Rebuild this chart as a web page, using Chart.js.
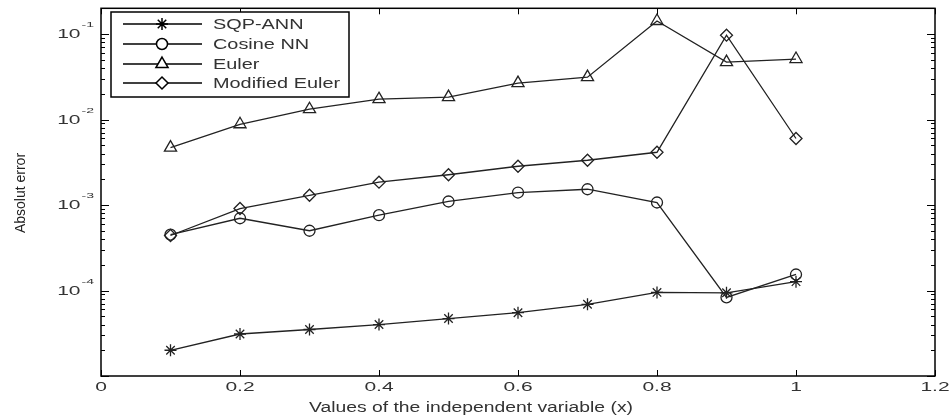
<!DOCTYPE html>
<html>
<head>
<meta charset="utf-8">
<script src="https://cdn.jsdelivr.net/npm/chart.js@4/dist/chart.umd.min.js"></script>
<style>
  html, body { margin: 0; padding: 0; background: #fff; }
  #wrap { width: 950px; height: 419px; }
</style>
</head>
<body>
<div id="wrap"><canvas id="errchart" width="950" height="419"></canvas></div>
<script>
// x positions and absolute error values
let xValues = [0.1, 0.2, 0.3, 0.4, 0.5, 0.6, 0.7, 0.8, 0.9, 1.0];
let sqpAnn = [2.0e-5, 3.1e-5, 3.5e-5, 4.0e-5, 4.7e-5, 5.5e-5, 6.9e-5, 9.5e-5, 9.4e-5, 1.27e-4];
let cosineNN = [4.5e-4, 7.0e-4, 5.0e-4, 7.6e-4, 1.1e-3, 1.4e-3, 1.53e-3, 1.07e-3, 8.3e-5, 1.54e-4];
let euler = [4.7e-3, 8.8e-3, 1.32e-2, 1.73e-2, 1.83e-2, 2.67e-2, 3.13e-2, 0.142, 0.047, 0.051];
let modEuler = [4.4e-4, 9.1e-4, 1.3e-3, 1.85e-3, 2.26e-3, 2.84e-3, 3.34e-3, 4.14e-3, 0.097, 6.0e-3];

let seriesNames = ['SQP-ANN', 'Cosine NN', 'Euler', 'Modified Euler'];
let yMajorTicks = [1e-4, 1e-3, 1e-2, 1e-1];
let yTickExp = ['-4', '-3', '-2', '-1'];
let xTicks = [0, 0.2, 0.4, 0.6, 0.8, 1.0, 1.2];
let xTickLabels = ['0', '0.2', '0.4', '0.6', '0.8', '1', '1.2'];

const LINE = '#222222';
const TEXT = '#333333';
const FONT = '"Liberation Sans", Arial, sans-serif';
const STRETCH = 1.75; //the original picture is stretched sideways

function toPoints(vals){
    return vals.map((v, i) => ({x: xValues[i], y: v}));
}

function makeSet(label, vals, style, radius){
    return {
        label: label,
        data: toPoints(vals),
        borderColor: LINE,
        borderWidth: 1.3,
        backgroundColor: 'rgba(0,0,0,0)',
        pointStyle: style,
        pointRadius: radius,
        pointBorderColor: LINE,
        pointBorderWidth: 1.3,
        pointBackgroundColor: 'rgba(0,0,0,0)',
        tension: 0
    };
}

function drawMarker(ctx, style, radius, x, y){
    if(Chart.helpers && Chart.helpers.drawPoint){
        Chart.helpers.drawPoint(ctx, {pointStyle: style, radius: radius, rotation: 0, borderWidth: 1.3}, x, y);
    }
}

//text with horizontal scaling, align left/center/right
function wideText(ctx, text, x, y, size, sx, align){
    ctx.save();
    ctx.translate(x, y);
    ctx.scale(sx, 1);
    ctx.font = size + 'px ' + FONT;
    ctx.textAlign = align;
    ctx.textBaseline = 'middle';
    ctx.fillStyle = TEXT;
    ctx.fillText(text, 0, 0);
    let w = ctx.measureText(text).width * sx;
    ctx.restore();
    return w;
}

//frame, inner ticks, tick labels, titles and legend
const framePlugin = {
    id: 'frame',
    afterDraw(chart){
        let ctx = chart.ctx;
        let area = chart.chartArea;
        let xs = chart.scales.x;
        let ys = chart.scales.y;
        ctx.save();
        ctx.strokeStyle = '#000';
        ctx.lineWidth = 1.5;
        ctx.strokeRect(area.left, area.top, area.right - area.left, area.bottom - area.top);

        ctx.lineWidth = 1;
        ctx.beginPath();
        xTicks.forEach(t => {
            let px = Math.round(xs.getPixelForValue(t)) + 0.5;
            ctx.moveTo(px, area.bottom); ctx.lineTo(px, area.bottom - 6);
            ctx.moveTo(px, area.top); ctx.lineTo(px, area.top + 6);
        });
        for(let k = -5; k <= 0; k++){
            for(let m = 1; m <= 9; m++){
                let v = m * Math.pow(10, k);
                if(v < ys.min || v > ys.max) continue;
                let py = Math.round(ys.getPixelForValue(v)) + 0.5;
                let len = m === 1 ? 8 : 4;
                ctx.moveTo(area.left, py); ctx.lineTo(area.left + len, py);
                ctx.moveTo(area.right, py); ctx.lineTo(area.right - len, py);
            }
        }
        ctx.stroke();

        //x tick labels and title
        xTicks.forEach((t, i) => {
            wideText(ctx, xTickLabels[i], xs.getPixelForValue(t), area.bottom + 12, 12, STRETCH, 'center');
        });
        wideText(ctx, 'Values of the independent variable (x)', (area.left + area.right) / 2 - 47, area.bottom + 32, 14, 1.38, 'center');

        //y tick labels 10^n
        yMajorTicks.forEach((t, i) => {
            let py = ys.getPixelForValue(t);
            let right = area.left - 7;
            ctx.save();
            ctx.font = '8px ' + FONT;
            let we = ctx.measureText(yTickExp[i]).width * STRETCH;
            ctx.restore();
            wideText(ctx, yTickExp[i], right - we, py - 9, 8, STRETCH, 'left');
            wideText(ctx, '10', right - we - 1, py + 1, 12, STRETCH, 'right');
        });

        //y axis title
        ctx.save();
        ctx.translate(21, 193);
        ctx.rotate(-Math.PI / 2);
        ctx.font = '14px ' + FONT;
        ctx.textAlign = 'center';
        ctx.textBaseline = 'middle';
        ctx.fillStyle = '#222';
        ctx.fillText('Absolut error', 0, 0);
        ctx.restore();

        //legend box
        let lx = 111, ly = 12, lw = 238, lh = 85;
        ctx.fillStyle = '#fff';
        ctx.fillRect(lx, ly, lw, lh);
        ctx.lineWidth = 1.5;
        ctx.strokeStyle = '#000';
        ctx.strokeRect(lx, ly, lw, lh);
        let rows = [24, 44, 64, 83];
        chart.data.datasets.forEach((ds, i) => {
            let y = rows[i];
            ctx.strokeStyle = '#000';
            ctx.lineWidth = 1.5;
            ctx.beginPath();
            ctx.moveTo(123, y); ctx.lineTo(202, y);
            ctx.stroke();
            drawMarker(ctx, ds.pointStyle, ds.pointRadius, 162, y);
            wideText(ctx, ds.label, 213, y + 1, 14, 1.42, 'left');
        });
        ctx.restore();
    }
};

new Chart(document.querySelector('#errchart'), {
    type: 'line',
    data: {
        datasets: [
            makeSet(seriesNames[0], sqpAnn, 'star', 6),
            makeSet(seriesNames[1], cosineNN, 'circle', 5.5),
            makeSet(seriesNames[2], euler, 'triangle', 7),
            makeSet(seriesNames[3], modEuler, 'rectRot', 6)
        ]
    },
    options: {
        responsive: false,
        devicePixelRatio: 1,
        animation: false,
        layout: { padding: { left: 101, right: 15, top: 8, bottom: 43 } },
        plugins: {
            legend: { display: false },
            tooltip: { enabled: false }
        },
        scales: {
            x: {
                type: 'linear',
                min: 0,
                max: 1.2,
                afterBuildTicks: axis => { axis.ticks = xTicks.map(v => ({value: v})); },
                grid: { display: false, drawTicks: false },
                border: { display: false },
                ticks: { display: false }
            },
            y: {
                type: 'logarithmic',
                min: 1e-5,
                max: 0.2,
                grid: { display: false, drawTicks: false },
                border: { display: false },
                ticks: { display: false }
            }
        }
    },
    plugins: [framePlugin]
});
</script>
</body>
</html>
